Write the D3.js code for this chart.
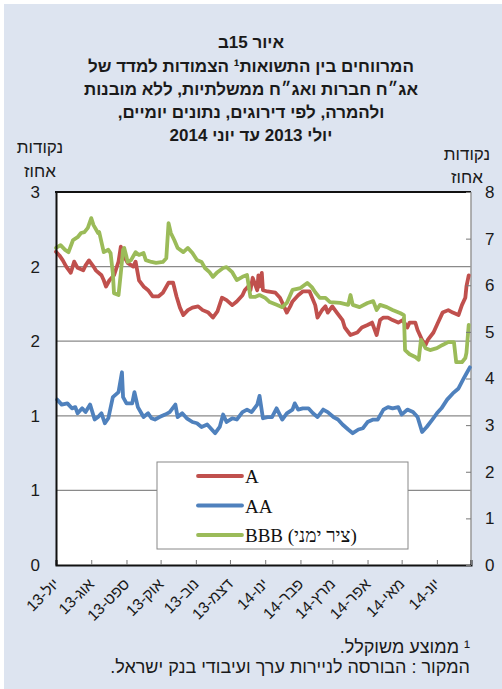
<!DOCTYPE html>
<html lang="he">
<head>
<meta charset="UTF-8">
<title>איור 15ב</title>
<style>
  html, body { margin: 0; padding: 0; background: #fff; }
  svg { display: block; }
  .heb { font-family: "Liberation Sans", "DejaVu Sans", sans-serif; fill: #1a1a1a; }
</style>
</head>
<body>
<svg id="chart" width="502" height="689"></svg>
<script src="https://cdn.jsdelivr.net/npm/d3@7"></script>
<script>
// ---- data ----
const titleLines = [
  "איור 15ב",
  "המרווחים בין התשואות¹ הצמודות למדד של",
  "אג״ח חברות ואג״ח ממשלתיות, ללא מובנות",
  "ולהמרה, לפי דירוגים, נתונים יומיים,",
  "יולי 2013 עד יוני 2014"
];
const monthLabels = ["יול-13","אוג-13","ספט-13","אוק-13","נוב-13","דצמ-13","ינו-14","פבר-14","מרץ-14","אפר-14","מאי-14","יונ-14"];
const leftTicks = [0, 0.6, 1.2, 1.8, 2.4, 3];
const rightTicks = [0, 1, 2, 3, 4, 5, 6, 7, 8];
const footnotes = ["¹ ממוצע משוקלל.", "המקור : הבורסה לניירות ערך ועיבודי בנק ישראל."];

// A – left axis
const seriesA = [
["2013-07-01",2.52],["2013-07-04",2.49],["2013-07-07",2.45],["2013-07-10",2.40],["2013-07-14",2.35],["2013-07-17",2.44],["2013-07-20",2.39],["2013-07-25",2.37],["2013-07-27",2.41],["2013-07-30",2.45],
["2013-08-03",2.40],["2013-08-05",2.37],["2013-08-10",2.33],["2013-08-12",2.29],["2013-08-14",2.24],["2013-08-17",2.29],["2013-08-21",2.33],["2013-08-25",2.44],["2013-08-27",2.56],["2013-08-30",2.48],
["2013-09-02",2.43],["2013-09-07",2.40],["2013-09-09",2.44],["2013-09-12",2.29],["2013-09-16",2.24],["2013-09-20",2.21],["2013-09-24",2.16],["2013-09-29",2.16],
["2013-10-03",2.19],["2013-10-08",2.27],["2013-10-12",2.27],["2013-10-15",2.16],["2013-10-18",2.07],["2013-10-21",2.01],["2013-10-25",2.05],["2013-10-29",2.07],
["2013-11-03",2.08],["2013-11-07",2.05],["2013-11-12",2.03],["2013-11-16",1.99],["2013-11-20",2.04],["2013-11-24",2.15],["2013-11-28",2.13],
["2013-12-03",2.09],["2013-12-07",2.12],["2013-12-12",2.17],["2013-12-14",2.21],["2013-12-17",2.24],["2013-12-19",2.21],["2013-12-21",2.31],["2013-12-25",2.21],["2013-12-26",2.33],["2013-12-27",2.24],["2013-12-29",2.35],["2013-12-30",2.21],
["2014-01-03",2.20],["2014-01-10",2.19],["2014-01-14",2.15],["2014-01-17",2.09],["2014-01-20",2.03],["2014-01-23",2.08],["2014-01-25",2.12],["2014-01-30",2.17],
["2014-02-03",2.20],["2014-02-09",2.20],["2014-02-14",2.09],["2014-02-16",1.99],["2014-02-20",2.05],["2014-02-23",2.08],["2014-02-25",2.03],
["2014-03-01",2.08],["2014-03-05",2.03],["2014-03-10",1.97],["2014-03-12",1.91],["2014-03-17",1.85],["2014-03-23",1.87],["2014-03-27",1.91],
["2014-04-01",1.93],["2014-04-05",1.95],["2014-04-09",1.85],["2014-04-12",1.97],["2014-04-15",1.99],["2014-04-19",1.99],["2014-04-23",1.97],["2014-04-28",1.95],
["2014-05-02",1.97],["2014-05-06",1.91],["2014-05-08",1.95],["2014-05-13",1.95],["2014-05-15",1.89],["2014-05-19",1.81],["2014-05-22",1.77],["2014-05-24",1.81],["2014-05-29",1.87],
["2014-06-02",1.95],["2014-06-06",2.03],["2014-06-11",2.05],["2014-06-15",2.03],["2014-06-20",2.01],["2014-06-23",2.09],["2014-06-26",2.15],["2014-06-27",2.24],["2014-06-29",2.33]
];

// AA – left axis
const seriesAA = [
["2013-07-02",1.33],["2013-07-06",1.29],["2013-07-11",1.30],["2013-07-15",1.26],["2013-07-18",1.27],["2013-07-20",1.22],["2013-07-24",1.26],["2013-07-27",1.23],["2013-07-31",1.29],
["2013-08-04",1.17],["2013-08-07",1.19],["2013-08-10",1.22],["2013-08-13",1.14],["2013-08-16",1.18],["2013-08-20",1.35],["2013-08-25",1.39],["2013-08-28",1.55],["2013-08-29",1.35],
["2013-09-01",1.30],["2013-09-06",1.30],["2013-09-08",1.39],["2013-09-11",1.27],["2013-09-16",1.19],["2013-09-20",1.22],["2013-09-23",1.18],["2013-09-26",1.17],["2013-09-30",1.19],
["2013-10-05",1.21],["2013-10-09",1.23],["2013-10-14",1.29],["2013-10-16",1.19],["2013-10-20",1.22],["2013-10-24",1.18],["2013-10-29",1.15],
["2013-11-02",1.14],["2013-11-06",1.11],["2013-11-11",1.13],["2013-11-15",1.09],["2013-11-18",1.06],["2013-11-22",1.11],["2013-11-25",1.21],["2013-11-28",1.15],
["2013-12-03",1.18],["2013-12-07",1.17],["2013-12-12",1.23],["2013-12-16",1.25],["2013-12-20",1.23],["2013-12-25",1.29],["2013-12-27",1.36],["2013-12-30",1.18],
["2014-01-03",1.19],["2014-01-07",1.19],["2014-01-11",1.26],["2014-01-16",1.17],["2014-01-20",1.22],["2014-01-25",1.25],["2014-01-27",1.30],["2014-01-30",1.25],
["2014-02-03",1.26],["2014-02-08",1.26],["2014-02-12",1.22],["2014-02-16",1.19],["2014-02-21",1.25],["2014-02-25",1.23],
["2014-03-02",1.19],["2014-03-06",1.17],["2014-03-10",1.13],["2014-03-15",1.09],["2014-03-19",1.06],["2014-03-24",1.09],["2014-03-28",1.10],
["2014-04-01",1.15],["2014-04-06",1.17],["2014-04-10",1.17],["2014-04-15",1.25],["2014-04-19",1.27],["2014-04-23",1.26],["2014-04-28",1.27],
["2014-05-01",1.21],["2014-05-06",1.25],["2014-05-11",1.23],["2014-05-15",1.19],["2014-05-19",1.07],["2014-05-23",1.11],["2014-05-28",1.17],
["2014-06-01",1.22],["2014-06-05",1.26],["2014-06-10",1.33],["2014-06-15",1.38],["2014-06-20",1.42],["2014-06-24",1.49],["2014-06-27",1.54],["2014-06-30",1.59]
];

// BBB – right axis
const seriesBBB = [
["2013-07-01",6.80],["2013-07-05",6.86],["2013-07-09",6.76],["2013-07-12",6.71],["2013-07-16",6.97],["2013-07-20",7.03],["2013-07-23",7.12],["2013-07-26",7.14],["2013-07-29",7.23],
["2013-08-01",7.44],["2013-08-03",7.29],["2013-08-07",7.12],["2013-08-08",7.14],["2013-08-12",6.71],["2013-08-16",6.76],["2013-08-18",6.69],["2013-08-20",6.26],["2013-08-21",5.83],["2013-08-25",5.79],["2013-08-27",6.26],["2013-08-29",6.76],["2013-08-30",6.80],
["2013-09-01",6.61],["2013-09-02",6.50],["2013-09-05",6.54],["2013-09-09",6.71],["2013-09-12",6.65],["2013-09-16",6.69],["2013-09-18",6.54],["2013-09-23",6.50],["2013-09-27",6.48],
["2013-10-03",6.50],["2013-10-06",6.58],["2013-10-08",7.33],["2013-10-10",7.12],["2013-10-13",6.97],["2013-10-16",6.80],["2013-10-21",6.71],["2013-10-25",6.80],["2013-10-29",6.69],
["2013-11-02",6.54],["2013-11-06",6.50],["2013-11-09",6.37],["2013-11-13",6.28],["2013-11-16",6.18],["2013-11-20",6.28],["2013-11-25",6.37],["2013-11-28",6.39],
["2013-12-03",6.28],["2013-12-07",6.11],["2013-12-12",6.18],["2013-12-16",6.22],["2013-12-19",5.75],["2013-12-23",5.75],["2013-12-27",5.79],
["2014-01-01",5.73],["2014-01-05",5.64],["2014-01-11",5.58],["2014-01-16",5.53],["2014-01-20",5.62],["2014-01-25",5.90],
["2014-02-01",5.94],["2014-02-07",6.05],["2014-02-11",5.96],["2014-02-14",5.85],["2014-02-18",5.73],["2014-02-23",5.73],["2014-02-27",5.64],
["2014-03-08",5.62],["2014-03-15",5.58],["2014-03-17",5.79],["2014-03-19",5.58],["2014-03-25",5.53],
["2014-04-01",5.62],["2014-04-06",5.66],["2014-04-09",5.47],["2014-04-12",5.58],["2014-04-18",5.53],["2014-04-23",5.47],["2014-04-30",5.40],
["2014-05-03",5.36],["2014-05-04",4.61],["2014-05-08",4.52],["2014-05-13",4.46],["2014-05-16",4.40],["2014-05-18",4.83],["2014-05-22",4.65],["2014-05-26",4.61],
["2014-06-01",4.65],["2014-06-06",4.72],["2014-06-11",4.78],["2014-06-16",4.78],["2014-06-18",4.35],["2014-06-23",4.35],["2014-06-26",4.44],["2014-06-27",4.55],["2014-06-29",5.15]
];

const seriesNames = ["A", "AA", "BBB (ציר ימני)"];
const seriesColors = ["#c0504d", "#4f81bd", "#9bbb59"];

// ---- layout ----
const W = 502, H = 689;
const plot = { left: 56, right: 471, top: 192, bottom: 565 };
const parse = d3.timeParse("%Y-%m-%d");

const svg = d3.select("#chart");

// page background
svg.append("rect").attr("x", 4).attr("y", 4).attr("width", W - 4).attr("height", H - 4).attr("fill", "#dde4f0");

// scales
const x = d3.scaleTime()
  .domain([parse("2013-07-01"), parse("2014-07-01")])
  .range([plot.left, plot.right]);
const yL = d3.scaleLinear().domain([0, 3]).range([plot.bottom, plot.top]);
const yR = d3.scaleLinear().domain([0, 8]).range([plot.bottom, plot.top]);

// plot area
svg.append("rect")
  .attr("x", plot.left).attr("y", plot.top)
  .attr("width", plot.right - plot.left).attr("height", plot.bottom - plot.top)
  .attr("fill", "#fff");

// gridlines (left axis steps)
svg.append("g").selectAll("line")
  .data(leftTicks.filter(t => t > 0 && t < 3))
  .join("line")
  .attr("x1", plot.left).attr("x2", plot.right)
  .attr("y1", d => yL(d)).attr("y2", d => yL(d))
  .attr("stroke", "#8a8a8a").attr("stroke-width", 1.2);

// right border
svg.append("line")
  .attr("x1", plot.right).attr("x2", plot.right)
  .attr("y1", plot.top).attr("y2", plot.bottom)
  .attr("stroke", "#999").attr("stroke-width", 1.5);

// lines
const line = (scale) => d3.line()
  .x(d => x(parse(d[0])))
  .y(d => scale(d[1]));

const allSeries = [
  { data: seriesA, scale: yL },
  { data: seriesAA, scale: yL },
  { data: seriesBBB, scale: yR }
];
allSeries.forEach((s, i) => {
  svg.append("path")
    .datum(s.data)
    .attr("fill", "none")
    .attr("stroke", seriesColors[i])
    .attr("stroke-width", 3.8)
    .attr("stroke-linejoin", "round")
    .attr("stroke-linecap", "round")
    .attr("d", line(s.scale));
});

// top border
svg.append("line")
  .attr("x1", plot.left - 1).attr("x2", plot.right)
  .attr("y1", plot.top).attr("y2", plot.top)
  .attr("stroke", "#111").attr("stroke-width", 2);

// x axis
const months = d3.timeMonth.range(parse("2013-07-01"), parse("2014-07-02"));
const xAxis = d3.axisBottom(x)
  .tickValues(months)
  .tickSize(-5)
  .tickFormat("");
const gx = svg.append("g")
  .attr("transform", `translate(0,${plot.bottom})`)
  .call(xAxis);
gx.select(".domain").attr("stroke", "#111").attr("stroke-width", 2);
gx.selectAll(".tick line").attr("stroke", "#777");

svg.append("g").selectAll("text")
  .data(monthLabels)
  .join("text")
  .attr("class", "heb")
  .attr("font-size", 15.5)
  .attr("text-anchor", "end")
  .attr("transform", (d, i) => `translate(${x(months[i]) + 4},${plot.bottom + 20}) rotate(-45)`)
  .text(d => d);

// left axis
const gl = svg.append("g")
  .attr("transform", `translate(${plot.left},0)`)
  .call(d3.axisLeft(yL).tickValues(leftTicks).tickFormat(d3.format(".0f")).tickSize(0).tickPadding(16));
gl.select(".domain").attr("stroke", "#111").attr("stroke-width", 2);
gl.selectAll("text").attr("class", "heb").attr("font-size", 17).attr("fill", "#222");

// right axis
const gr = svg.append("g")
  .attr("transform", `translate(${plot.right},0)`)
  .call(d3.axisRight(yR).tickValues(rightTicks).tickSize(-5).tickPadding(14));
gr.select(".domain").remove();
gr.selectAll(".tick line").attr("stroke", "#777");
gr.selectAll("text").attr("class", "heb").attr("font-size", 17).attr("fill", "#222");

// title
svg.append("g").selectAll("text")
  .data(titleLines)
  .join("text")
  .attr("class", "heb")
  .attr("x", 251)
  .attr("y", (d, i) => [48, 72, 95, 118, 141][i])
  .attr("text-anchor", "middle")
  .attr("direction", "rtl")
  .attr("font-size", 17)
  .attr("font-weight", "bold")
  .text(d => d);

// axis unit labels
[["נקודות", 40, 153], ["אחוז", 40, 177], ["נקודות", 467, 160], ["אחוז", 467, 183]].forEach(t => {
  svg.append("text")
    .attr("class", "heb")
    .attr("x", t[1]).attr("y", t[2])
    .attr("text-anchor", "middle")
    .attr("direction", "rtl")
    .attr("font-size", 17)
    .text(t[0]);
});

// legend
const lg = svg.append("g");
lg.append("rect")
  .attr("x", 157).attr("y", 462).attr("width", 251).attr("height", 87)
  .attr("fill", "#fff").attr("stroke", "#888").attr("stroke-width", 1);
seriesNames.forEach((name, i) => {
  const yy = 476 + i * 29.5;
  lg.append("line")
    .attr("x1", 198).attr("x2", 242).attr("y1", yy).attr("y2", yy)
    .attr("stroke", seriesColors[i]).attr("stroke-width", 3.8).attr("stroke-linecap", "round");
  lg.append("text")
    .attr("x", 245).attr("y", yy + 7)
    .attr("font-family", "'Liberation Serif', 'DejaVu Serif', serif")
    .attr("font-size", 19)
    .attr("fill", "#111")
    .text(name);
});

// footnotes
svg.append("g").selectAll("text")
  .data(footnotes)
  .join("text")
  .attr("class", "heb")
  .attr("x", 470)
  .attr("y", (d, i) => 653 + i * 20)
  .attr("direction", "rtl")
  .attr("text-anchor", "start")
  .attr("font-size", 18)
  .text(d => d);
</script>
</body>
</html>
